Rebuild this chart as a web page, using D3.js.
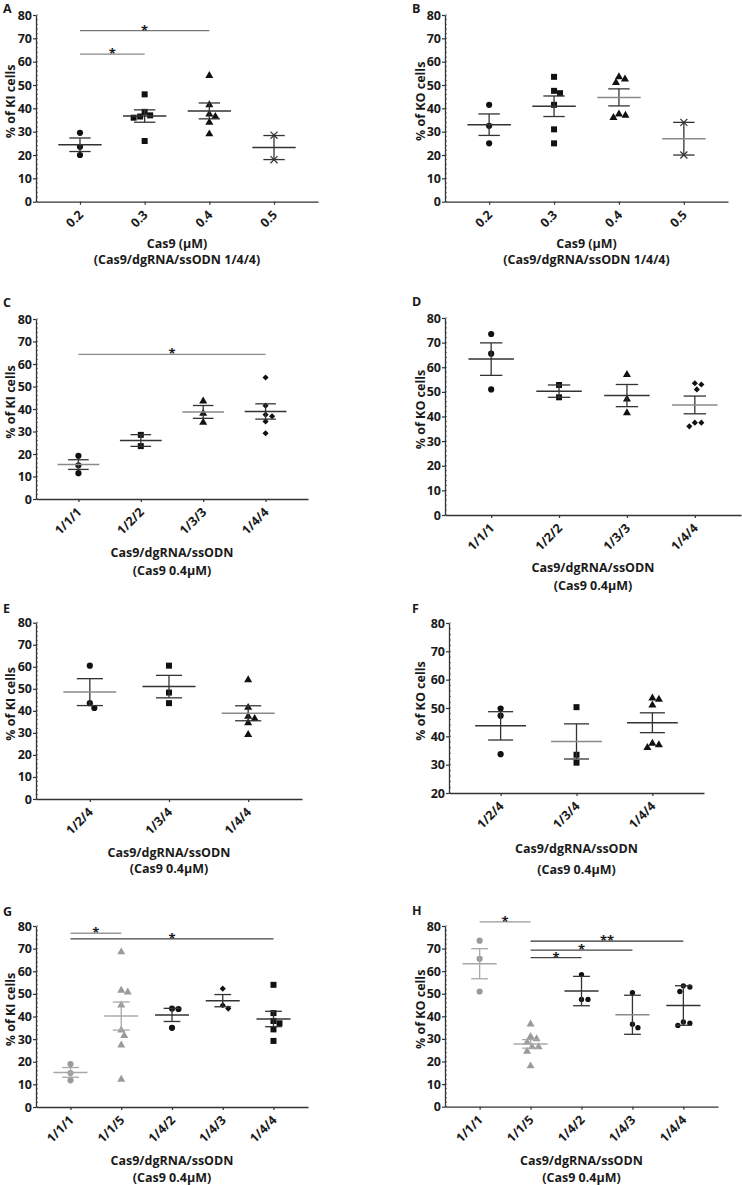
<!DOCTYPE html>
<html><head><meta charset="utf-8">
<script src="https://cdn.jsdelivr.net/npm/d3@7"></script>
<style>
body{margin:0;background:#fff}
text{font-family:'Open Sans','Noto Sans','DejaVu Sans',sans-serif;font-weight:700;fill:#1a1a1a}
</style>
</head><body>
<svg id="c" width="742" height="1185" xmlns="http://www.w3.org/2000/svg"></svg>
<script>
// ---------------- DATA ----------------
const catsA = ["0.2","0.3","0.4","0.5"];
const valsA = [[29.5,23.5,20],[46,38.5,36.5,36,37,26],[54,41.5,36.5,37.5,34,29],[28.5,18]];
const meanA = [24.4,36.7,38.9,23.2];
const errA  = [2.9,2.65,3.4,5.15];
const sigA  = [["0.2","0.3",63.2,"*"],["0.2","0.4",73.3,"*"]];

const catsB = ["0.2","0.3","0.4","0.5"];
const valsB = [[41.5,32.5,25],[53.5,47.5,46.5,41.5,31,25],[52.5,51,53.5,37.5,36,37],[34,20]];
const meanB = [33,40.9,44.7,27];
const errB  = [4.6,4.4,3.65,7];

const catsC = ["1/1/1","1/2/2","1/3/3","1/4/4"];
const valsC = [[19.2,15,11.5],[28.5,23.5],[43.5,38,34],[54,41.5,37.5,36.8,34.5,29.2]];
const meanC = [15.3,26,38.7,38.9];
const errC  = [2.15,2.6,2.85,3.4];
const sigC  = [["1/1/1","1/4/4",64.3,"*"]];

const catsD = ["1/1/1","1/2/2","1/3/3","1/4/4"];
const valsD = [[73.5,65.5,51],[52.8,47.8],[57,47,41.5],[53,51,53.5,37.5,36,37.5]];
const meanD = [63.3,50.3,48.5,44.7];
const errD  = [6.6,2.5,4.5,3.6];

const catsE = ["1/2/4","1/3/4","1/4/4"];
const valsE = [[60.5,43.5,41.3],[60.5,48.3,43.5],[54,41.5,37.5,36.5,34.5,29.2]];
const meanE = [48.5,51,38.9];
const errE  = [6.1,5.1,3.4];

const catsF = ["1/2/4","1/3/4","1/4/4"];
const valsF = [[49.8,47.3,33.7],[50.3,33.5,30.7],[53,53.5,51,37.5,36,37]];
const meanF = [43.7,38.2,44.8];
const errF  = [5,6.2,3.5];

const catsG = ["1/1/1","1/1/5","1/4/2","1/4/3","1/4/4"];
const valsG = [[19,15,11.8],[68.5,51.5,50.8,45,34,31.5,27.3,12.2],[43.5,43.3,35],[52.3,45,43.5],[54,41.5,38,37,34.3,29.2]];
const meanG = [15.3,40.2,40.7,47,38.9];
const errG  = [2.15,6.2,2.9,2.7,3.4];
const sigG  = [["1/1/1","1/1/5",76.8,"*"],["1/1/1","1/4/4",74.3,"*"]];

const catsH = ["1/1/1","1/1/5","1/4/2","1/4/3","1/4/4"];
const valsH = [[73.5,65.5,51],[36.5,31,30,28.5,26.5,26.5,24.5,18],[58.5,47.5,47.5],[50.5,36.5,35],[53,53.5,51,37.5,36,37]];
const meanH = [63.3,27.8,51.2,40.7,44.8];
const errH  = [6.65,1.9,6.5,8.65,8.75];
const sigH  = [["1/1/1","1/1/5",81.8,"*"],["1/1/5","1/4/4",73.3,"**"],["1/1/5","1/4/3",69.3,"*"],["1/1/5","1/4/2",66,"*"]];

const yTicks80 = [0,10,20,30,40,50,60,70,80];
const yTicksF  = [20,30,40,50,60,70,80];

// ---------------- STYLES ----------------
const BLACK = "#111", GREY = "#9a9a9a";
const shapes4 = ["circle","square","triangle","times"];
const shapesCD = ["circle","square","triangle","diamond"];
const shapesEF = ["circle","square","triangle"];
const shapesG = ["circle","triangle","circle","diamond","square"];
const shapesH = ["circle","triangle","dot","dot","dot"];
const colBlack4 = [BLACK,BLACK,BLACK,BLACK];
const colGH = [GREY,GREY,BLACK,BLACK,BLACK];

const svg = d3.select("#c");
const FONT = "'Open Sans','Noto Sans','DejaVu Sans',sans-serif";

function symPath(shape){
  const m = {
    circle:[d3.symbolCircle,30],
    dot:[d3.symbolCircle,22],
    square:[d3.symbolSquare,36],
    triangle:[d3.symbolTriangle,28],
    diamond:[d3.symbolDiamond2 || d3.symbolSquare,24],
    times:[d3.symbolTimes || d3.symbolCross,34]
  }[shape];
  return d3.symbol().type(m[0]).size(m[1])();
}

function panel(cfg){
  const g = svg.append("g");
  const y = d3.scaleLinear().domain(cfg.domain).range([cfg.yBot, cfg.yTop]);
  const x = d3.scalePoint().domain(cfg.cats).range([cfg.x0, cfg.x1]).padding(0.68);
  const step = x.step();

  // letter
  g.append("text").attr("x",cfg.lx).attr("y",cfg.ly).attr("font-size",12.5).text(cfg.letter);

  // minor ticks (inside)
  g.append("g").selectAll("line")
    .data(d3.range(cfg.domain[0], cfg.domain[1]+0.01, 2))
    .join("line")
    .attr("x1",cfg.x0).attr("x2",cfg.x0+2)
    .attr("y1",d=>y(d)).attr("y2",d=>y(d))
    .attr("stroke","#555").attr("stroke-width",0.8);

  // y axis
  const gy = g.append("g").attr("transform",`translate(${cfg.x0},0)`)
    .call(d3.axisLeft(y).tickValues(cfg.yticks).tickSize(3).tickSizeOuter(0).tickPadding(1));
  gy.select(".domain").attr("stroke","#333").attr("stroke-width",1.3);
  gy.selectAll(".tick line").attr("stroke","#333").attr("stroke-width",1.2);
  gy.selectAll(".tick text").attr("font-size",12.5).attr("font-family",FONT)
    .attr("font-weight",700).attr("fill","#1a1a1a");

  // x axis
  const gx = g.append("g").attr("transform",`translate(0,${cfg.yBot})`)
    .call(d3.axisBottom(x).tickSize(3).tickSizeOuter(0).tickFormat(""));
  gx.select(".domain").attr("stroke","#333").attr("stroke-width",1.3);
  gx.selectAll(".tick line").attr("stroke","#333").attr("stroke-width",1.2);

  // x tick labels rotated
  g.append("g").selectAll("text").data(cfg.cats).join("text")
    .attr("transform",d=>`translate(${x(d)+4},${cfg.yBot+14}) rotate(-45)`)
    .attr("text-anchor","end").attr("font-size",12.5).text(d=>d);

  // y title
  const ymid = (cfg.yTop+cfg.yBot)/2 - 7;
  g.append("text").attr("transform",`translate(${cfg.ytx},${ymid}) rotate(-90)`)
    .attr("text-anchor","middle").attr("font-size",12.5).text(cfg.ytitle);

  // x title
  const xmid = (cfg.x0+cfg.x1)/2;
  cfg.xtitle.forEach((t,i)=>{
    g.append("text").attr("x",xmid).attr("y",cfg.xty[i]).attr("text-anchor","middle")
      .attr("font-size",12.5).text(t);
  });

  // points (beeswarm)
  const D = 6.4;
  cfg.vals.forEach((arr,gi)=>{
    const cx = x(cfg.cats[gi]);
    const pts = arr.map(v=>({v, py:y(v)})).sort((a,b)=>a.py-b.py);
    const placed = [];
    pts.forEach(p=>{
      const cands=[0]; for(let k=1;k<60;k++){cands.push(k*0.5,-k*0.5);}
      for(const dx of cands){
        if(placed.every(q=>Math.hypot(q.dx-dx,q.py-p.py)>=D)){p.dx=dx;break;}
      }
      placed.push(p);
    });
    const shape = cfg.shapes[gi], col = cfg.colors[gi];
    const isStroke = shape==="times";
    g.append("g").selectAll("path").data(placed).join("path")
      .attr("d",symPath(shape))
      .attr("transform",d=>`translate(${cx+d.dx},${d.py})`)
      .attr("fill",isStroke?"none":col)
      .attr("stroke",isStroke?"#333":"none")
      .attr("stroke-width",isStroke?1.2:0);
  });

  // mean & error bars
  cfg.means.forEach((m,gi)=>{
    const cx = x(cfg.cats[gi]);
    const e = cfg.errs[gi];
    const grey = cfg.colors[gi]===GREY;
    const lc = grey ? "#a8a8a8" : "#333";
    const mc = grey ? "#a8a8a8" : (cfg.meanGrey && cfg.meanGrey[gi] ? "#8a8a8a" : "#333");
    const hw = 0.335*step, cw = 0.165*step;
    const eg = g.append("g").attr("stroke-width",1.3).attr("fill","none");
    eg.append("line").attr("x1",cx).attr("x2",cx).attr("y1",y(m+e)).attr("y2",y(m-e)).attr("stroke",lc);
    eg.append("line").attr("x1",cx-cw).attr("x2",cx+cw).attr("y1",y(m+e)).attr("y2",y(m+e)).attr("stroke",lc);
    eg.append("line").attr("x1",cx-cw).attr("x2",cx+cw).attr("y1",y(m-e)).attr("y2",y(m-e)).attr("stroke",lc);
    eg.append("line").attr("x1",cx-hw).attr("x2",cx+hw).attr("y1",y(m)).attr("y2",y(m)).attr("stroke",mc).attr("stroke-width",1.5);
  });

  // significance
  (cfg.sig||[]).forEach((s,i)=>{
    const xa = x(s[0]), xb = x(s[1]), yy = y(s[2]);
    const c = cfg.sigColors ? cfg.sigColors[i] : "#777";
    g.append("line").attr("x1",xa).attr("x2",xb).attr("y1",yy).attr("y2",yy)
      .attr("stroke",c).attr("stroke-width",1.3);
    g.append("text").attr("x",(xa+xb)/2).attr("y",yy+4).attr("text-anchor","middle")
      .attr("font-size",13).text(s[3]);
  });
}

const xtCas = ["Cas9 (\u03bcM)","(Cas9/dgRNA/ssODN 1/4/4)"];
const xtRatio = ["Cas9/dgRNA/ssODN","(Cas9 0.4\u03bcM)"];

panel({letter:"A",lx:3,ly:12.7,cats:catsA,vals:valsA,means:meanA,errs:errA,sig:sigA,sigColors:["#888","#777"],
  domain:[0,80],yticks:yTicks80,x0:36,x1:318,yTop:15,yBot:201.7,ytx:15,ytitle:"% of KI cells",
  xtitle:xtCas,xty:[248,264],shapes:shapes4,colors:colBlack4});
panel({letter:"B",lx:412,ly:12.7,cats:catsB,vals:valsB,means:meanB,errs:errB,meanGrey:[0,0,1,1],
  domain:[0,80],yticks:yTicks80,x0:445,x1:728,yTop:15,yBot:201.7,ytx:424.5,ytitle:"% of KO cells",
  xtitle:xtCas,xty:[248,264],shapes:shapes4,colors:colBlack4});
panel({letter:"C",lx:3,ly:306.7,cats:catsC,vals:valsC,means:meanC,errs:errC,sig:sigC,sigColors:["#8a8a8a"],meanGrey:[1,0,1,0],
  domain:[0,80],yticks:yTicks80,x0:36,x1:308,yTop:319,yBot:499,ytx:15,ytitle:"% of KI cells",
  xtitle:xtRatio,xty:[556.7,575],shapes:shapesCD,colors:colBlack4});
panel({letter:"D",lx:412,ly:305.7,cats:catsD,vals:valsD,means:meanD,errs:errD,meanGrey:[0,0,0,1],
  domain:[0,80],yticks:yTicks80,x0:445,x1:741,yTop:318,yBot:515,ytx:424.5,ytitle:"% of KO cells",
  xtitle:xtRatio,xty:[571.7,590],shapes:shapesCD,colors:colBlack4});
panel({letter:"E",lx:3,ly:613,cats:catsE,vals:valsE,means:meanE,errs:errE,meanGrey:[1,0,1],
  domain:[0,80],yticks:yTicks80,x0:36,x1:302,yTop:622.7,yBot:799,ytx:15,ytitle:"% of KI cells",
  xtitle:xtRatio,xty:[856.7,873],shapes:shapesEF,colors:colBlack4});
panel({letter:"F",lx:412,ly:612.7,cats:catsF,vals:valsF,means:meanF,errs:errF,meanGrey:[0,1,0],
  domain:[20,80],yticks:yTicksF,x0:449,x1:704,yTop:623,yBot:793,ytx:424.5,ytitle:"% of KO cells",
  xtitle:xtRatio,xty:[853,874],shapes:shapesEF,colors:colBlack4});
panel({letter:"G",lx:3,ly:916,cats:catsG,vals:valsG,means:meanG,errs:errG,sig:sigG,sigColors:["#999","#444"],
  domain:[0,80],yticks:yTicks80,x0:36,x1:308,yTop:926,yBot:1107,ytx:15,ytitle:"% of KI cells",
  xtitle:xtRatio,xty:[1165,1181.7],shapes:shapesG,colors:colGH});
panel({letter:"H",lx:412,ly:915,cats:catsH,vals:valsH,means:meanH,errs:errH,sig:sigH,sigColors:["#999","#333","#444","#444"],meanGrey:[0,0,0,1,0],
  domain:[0,80],yticks:yTicks80,x0:445,x1:718,yTop:926,yBot:1106.7,ytx:424.5,ytitle:"% of KO cells",
  xtitle:xtRatio,xty:[1165,1181.7],shapes:shapesH,colors:colGH});
</script>
</body></html>
